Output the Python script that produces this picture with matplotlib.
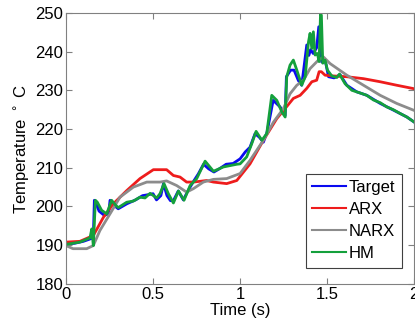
import matplotlib
matplotlib.use('Agg')
import matplotlib.pyplot as plt

# time (s) / temperature (C)
target_t = [0, 0.05, 0.10, 0.157, 0.163, 0.17, 0.19, 0.22, 0.245, 0.253,
            0.27, 0.30, 0.35, 0.40, 0.44, 0.48, 0.50, 0.52, 0.545, 0.56,
            0.58, 0.60, 0.617, 0.645, 0.674, 0.70, 0.73, 0.76, 0.79, 0.82,
            0.85, 0.88, 0.92, 0.96, 1.0, 1.03, 1.057, 1.086, 1.11, 1.134,
            1.155, 1.19, 1.23, 1.259, 1.266, 1.29, 1.31, 1.335, 1.354, 1.383,
            1.395, 1.405, 1.42, 1.44, 1.452, 1.469, 1.49, 1.508, 1.54, 1.575,
            1.613, 1.67, 1.728, 1.805, 1.88, 1.958, 2.0]
target_y = [190.3, 190.5, 191.0, 191.9, 201.6, 201.1, 198.8, 197.7, 198.1, 201.6,
            200.5, 199.4, 200.7, 201.7, 202.8, 203.1, 203.3, 201.7, 202.8, 205.9,
            202.8, 201.5, 201.5, 204.0, 201.7, 204.0, 206.3, 208.4, 210.9, 209.7,
            208.9, 209.7, 210.9, 211.1, 212.3, 214.1, 215.3, 218.8, 217.9, 216.6,
            219.2, 227.4, 225.7, 223.5, 233.5, 235.2, 235.2, 232.5, 231.3, 241.7,
            239.0, 240.5, 239.5, 241.0, 246.4, 237.3, 237.5, 233.5, 233.2, 234.0,
            231.3, 229.6, 228.7, 226.6, 224.9, 223.1, 221.8]

arx_t = [0, 0.08, 0.157, 0.215, 0.272, 0.349, 0.425, 0.502, 0.54, 0.578,
         0.617, 0.655, 0.693, 0.732, 0.808, 0.847, 0.923, 0.981, 1.057, 1.134,
         1.211, 1.259, 1.306, 1.345, 1.383, 1.412, 1.44, 1.454, 1.467, 1.488,
         1.536, 1.613, 1.709, 1.805, 1.9, 2.0]
arx_y = [190.8, 191.0, 192.5, 197.2, 200.7, 204.1, 207.2, 209.5, 209.5, 209.5,
         208.0, 207.6, 206.3, 206.3, 206.7, 206.3, 205.9, 206.7, 211.0, 217.1,
         222.7, 225.3, 227.9, 228.7, 230.5, 232.2, 232.6, 234.8, 234.8, 233.9,
         233.7, 233.5, 233.0, 232.2, 231.3, 230.4]

narx_t = [0, 0.04, 0.119, 0.157, 0.195, 0.253, 0.31, 0.387, 0.464, 0.54,
          0.578, 0.636, 0.693, 0.732, 0.789, 0.847, 0.923, 1.0, 1.057, 1.134,
          1.192, 1.249, 1.287, 1.326, 1.364, 1.402, 1.45, 1.479, 1.517, 1.613,
          1.709, 1.805, 1.9, 2.0]
narx_y = [189.9, 189.1, 189.1, 189.9, 193.8, 198.1, 202.4, 205.0, 206.3, 206.3,
          206.6, 205.4, 203.7, 204.6, 206.3, 207.0, 207.2, 208.5, 211.9, 217.1,
          221.8, 225.3, 229.1, 231.3, 232.6, 235.6, 237.8, 238.6, 236.9, 233.9,
          231.3, 228.7, 226.6, 224.8]

hm_t = [0, 0.08, 0.138, 0.148, 0.157, 0.169, 0.18, 0.205, 0.234, 0.262,
        0.282, 0.30, 0.349, 0.387, 0.425, 0.454, 0.483, 0.521, 0.54, 0.563,
        0.588, 0.617, 0.646, 0.678, 0.713, 0.751, 0.799, 0.847, 0.904, 0.981,
        1.0, 1.038, 1.067, 1.092, 1.125, 1.153, 1.182, 1.211, 1.24, 1.259,
        1.268, 1.287, 1.306, 1.326, 1.354, 1.374, 1.393, 1.402, 1.412, 1.421,
        1.431, 1.444, 1.454, 1.462, 1.467, 1.475, 1.488, 1.502, 1.527, 1.556,
        1.571, 1.603, 1.642, 1.69, 1.728, 1.766, 1.805, 1.843, 1.88, 1.92,
        1.958, 2.0]
hm_y = [190.2, 190.8, 191.9, 194.2, 189.9, 201.6, 201.1, 199.0, 198.1, 201.6,
        200.5, 199.7, 201.1, 201.4, 202.4, 202.2, 203.4, 202.2, 203.3, 205.9,
        203.3, 200.9, 204.0, 201.6, 205.4, 207.2, 211.7, 209.1, 210.2, 210.9,
        211.0, 212.8, 216.2, 219.4, 217.1, 218.8, 228.7, 227.4, 224.4, 223.1,
        233.5, 236.5, 237.8, 235.2, 231.3, 233.5, 242.5, 244.7, 240.8, 245.1,
        239.1, 239.5, 237.4, 249.7, 249.4, 237.0, 237.8, 235.2, 233.7, 233.3,
        234.2, 231.7, 230.0, 229.3, 228.7, 227.5, 226.8, 225.7, 225.0, 224.0,
        223.1, 221.8]

plt.rcParams['font.family'] = ['Liberation Sans', 'DejaVu Sans']
plt.rcParams['font.size'] = 12

fig = plt.figure(figsize=(4.15, 3.29), dpi=100)
ax = fig.add_axes([0.159, 0.137, 0.839, 0.824])

ax.plot(target_t, target_y, color='#0a0af0', lw=2, label='Target')
ax.plot(arx_t, arx_y, color='#ee1c1c', lw=2, label='ARX')
ax.plot(narx_t, narx_y, color='#8c8c8c', lw=2, label='NARX')
ax.plot(hm_t, hm_y, color='#14a03c', lw=2, label='HM')

ax.set_xlim(0, 2)
ax.set_ylim(180, 250)
ax.set_xticks([0, 0.5, 1, 1.5, 2])
ax.set_xticklabels(['0', '0.5', '1', '1.5', '2'])
ax.set_yticks(range(180, 251, 10))
ax.tick_params(direction='in', top=True, right=True, length=4,
               color='#808080', labelsize=12, pad=2)
for s in ax.spines.values():
    s.set_color('#808080')
    s.set_linewidth(0.8)

ax.set_xlabel('Time (s)', fontsize=12, labelpad=1)
ax.set_ylabel(r'Temperature $^\circ$ C', fontsize=12, labelpad=2)

leg = ax.legend(loc='lower right', bbox_to_anchor=(0.9655, 0.059),
                fontsize=12, fancybox=False, edgecolor='#404040',
                framealpha=1, handlelength=2.0, labelspacing=0.42,
                handletextpad=0.2, borderpad=0.4, borderaxespad=0)
leg.get_frame().set_linewidth(0.8)
for line in leg.get_lines():
    line.set_linewidth(1.5)

fig.savefig('out.png', dpi=100)
